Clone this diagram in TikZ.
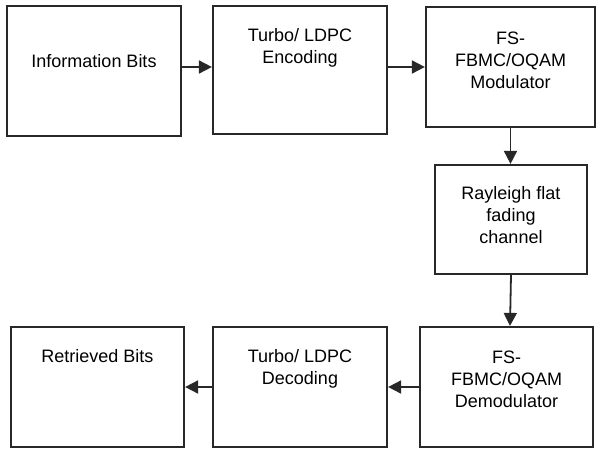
\documentclass[tikz,border=0pt]{standalone}
\usepackage{fontspec}
\setmainfont{Liberation Sans}
\usepackage{tikz}
\usetikzlibrary{arrows.meta,positioning}
\definecolor{boxline}{RGB}{40,40,40}

\begin{document}
\begin{tikzpicture}[
    x=1pt, y=-1pt,
    box/.style={rectangle, draw=boxline, line width=2.2pt, inner sep=0pt},
    txt/.style={align=center, inner sep=0pt, text=black, font=\fontsize{18}{22}\selectfont},
    arrow/.style={-{Triangle[length=13pt,width=13pt]}, line width=1.8pt, draw=boxline}
]
\useasboundingbox (0,0) rectangle (596,450);

% transmitter chain
\node[box, minimum width=174pt, minimum height=130pt] (info) at (94,71) {};
\node[box, minimum width=174pt, minimum height=128pt] (enc) at (300,70) {};
\node[box, minimum width=169pt, minimum height=120pt] (mod) at (510.5,67) {};

% channel
\node[box, minimum width=152pt, minimum height=109pt] (chan) at (511,219.5) {};

% receiver chain
\node[box, minimum width=173pt, minimum height=120pt] (demod) at (506.5,387) {};
\node[box, minimum width=174pt, minimum height=120pt] (dec) at (300,387) {};
\node[box, minimum width=173pt, minimum height=120pt] (retr) at (97.5,387) {};

% labels
\node[txt, below=49pt of info.north] (infotxt) {Information Bits};
\node[txt, below=23pt of enc.north] (enctxt) {Turbo/ LDPC\\Encoding};
\node[txt, below=26pt of mod.north] (modtxt) {FS-\\FBMC/OQAM\\Modulator};
\node[txt, below=22pt of chan.north] (chantxt) {Rayleigh flat\\fading\\channel};
\node[txt, below=25pt of demod.north] (demodtxt) {FS-\\FBMC/OQAM\\Demodulator};
\node[txt, below=23pt of dec.north] (dectxt) {Turbo/ LDPC\\Decoding};
\node[txt, below=23pt of retr.north] (retrtxt) {Retrieved Bits};

\draw[arrow] ([yshift=4pt]info.east) -- ([yshift=4pt]info.east -| enc.west);
\draw[arrow] ([yshift=3pt]enc.east) -- ([yshift=3pt]enc.east -| mod.west);
\draw[arrow] (mod.south) -- (mod.south |- chan.north);
\draw[arrow] (chan.south) -- ([xshift=3.5pt]demod.north);
\draw[arrow] (demod.west) -- (demod.west -| dec.east);
\draw[arrow] (dec.west) -- (dec.west -| retr.east);

\end{tikzpicture}
\end{document}
